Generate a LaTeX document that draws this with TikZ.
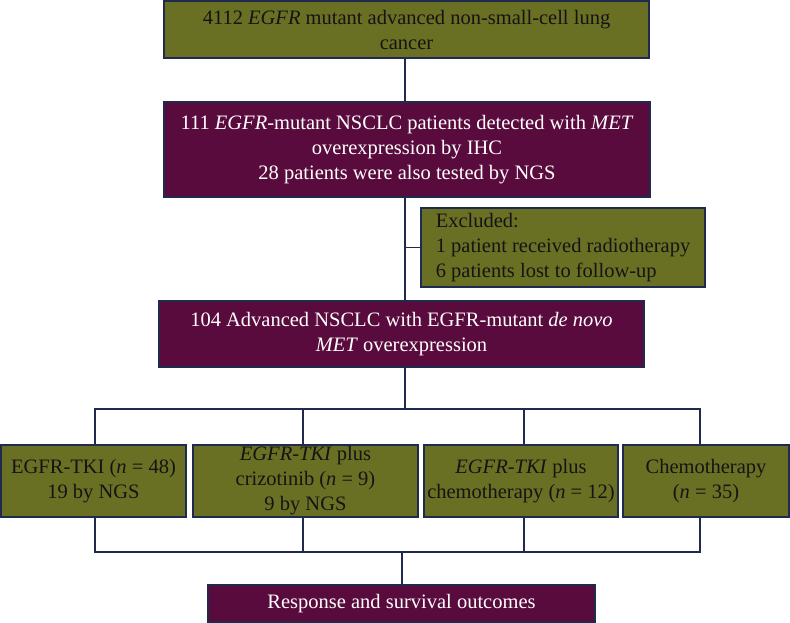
\documentclass[tikz,border=0pt]{standalone}
\usepackage{fontspec}
\setmainfont{Liberation Serif}
\definecolor{boxolive}{HTML}{6A7023}
\definecolor{boxmaroon}{HTML}{5A0B3D}
\definecolor{navyline}{HTML}{1F2A4E}
\definecolor{textdark}{HTML}{141414}
\begin{document}
\begin{tikzpicture}[x=1pt,y=-1pt,
  box/.style={draw=navyline, line width=1.2pt, inner sep=0pt, align=center,
    font=\fontsize{20.5}{25}\selectfont},
  greenbox/.style={box, fill=boxolive, text=textdark},
  maroonbox/.style={box, fill=boxmaroon, text=white},
  conn/.style={draw=navyline, line width=1.6pt}]
\fill[white] (0,0) rectangle (790,623);
\useasboundingbox (0,0) rectangle (790,623);

\node[greenbox, minimum width=485pt, minimum height=57pt] (b1) at (406.5,29.5)
  {4112 \textit{EGFR} mutant advanced non-small-cell lung\\ cancer};
\node[maroonbox, minimum width=486pt, minimum height=95pt] (b2) at (407,149.5)
  {111 \textit{EGFR}-mutant NSCLC patients detected with \textit{MET}\\ overexpression by IHC\\ 28 patients were also tested by NGS};
\node[greenbox, align=left, minimum width=284pt, minimum height=79pt] (excl) at (563,247.5)
  {Excluded:\\ 1 patient received radiotherapy\\ 6 patients lost to follow-up};
\node[maroonbox, minimum width=485pt, minimum height=66pt] (b3) at (401.5,334)
  {104 Advanced NSCLC with EGFR-mutant \textit{de novo}\\ \textit{MET} overexpression};

\node[greenbox, minimum width=185pt, minimum height=72pt] (ta) at (93.5,481)
  {EGFR-TKI (\textit{n} = 48)\\ 19 by NGS};
\node[greenbox, minimum width=225pt, minimum height=72pt] (tb) at (305.5,481)
  {\textit{EGFR-TKI} plus\\ crizotinib (\textit{n} = 9)\\ 9 by NGS};
\node[greenbox, minimum width=194pt, minimum height=72pt] (tc) at (521,481)
  {\textit{EGFR-TKI} plus\\ chemotherapy (\textit{n} = 12)};
\node[greenbox, minimum width=166pt, minimum height=72pt] (td) at (706,481)
  {Chemotherapy\\ (\textit{n} = 35)};

\node[maroonbox, minimum width=387pt, minimum height=37pt] (resp) at (401.5,603.5)
  {Response and survival outcomes};

% guide coordinates
\coordinate (spine) at (405,0);
\coordinate (topbar) at (0,409);
\coordinate (botbar) at (0,552);
\coordinate (dA) at (95,0);
\coordinate (dB) at (303,0);
\coordinate (dC) at (524,0);
\coordinate (dD) at (700,0);
\coordinate (dR) at (402,0);

\draw[conn] (b1.south -| spine) -- (b2.north -| spine);
\draw[conn] (b2.south -| spine) -- (b3.north -| spine);
\draw[conn] (excl.west) -- (excl.west -| spine);
\draw[conn] (b3.south -| spine) -- (spine |- topbar);
\draw[conn] (ta.north -| dA) -- (dA |- topbar) -- (dD |- topbar) -- (td.north -| dD);
\draw[conn] (tb.north -| dB) -- (dB |- topbar);
\draw[conn] (tc.north -| dC) -- (dC |- topbar);
\draw[conn] (ta.south -| dA) -- (dA |- botbar) -- (dD |- botbar) -- (td.south -| dD);
\draw[conn] (tb.south -| dB) -- (dB |- botbar);
\draw[conn] (tc.south -| dC) -- (dC |- botbar);
\draw[conn] (dR |- botbar) -- (resp.north -| dR);
\end{tikzpicture}
\end{document}
